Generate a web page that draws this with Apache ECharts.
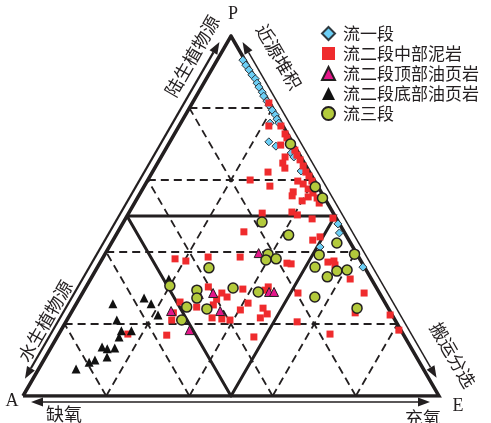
<!DOCTYPE html>
<html>
<head>
<meta charset="utf-8">
<script src="https://cdn.jsdelivr.net/npm/echarts/dist/echarts.min.js"></script>
<style>
  html, body { margin: 0; padding: 0; background: #ffffff; }
  #chart { width: 491px; height: 423px; }
</style>
</head>
<body>
<div id="chart"></div>
<script>
// Ternary plot of organic-matter source / depositional environment.
// Each sample is [P %, E %]; the A component is the remainder (100 - P - E).

const seriesNames = ['流一段', '流二段中部泥岩', '流二段顶部油页岩', '流二段底部油页岩', '流三段'];

const liu1 = [
  [93.3, 6.2], [91.9, 7.6], [90.6, 9.0], [89.2, 10.4], [88.1, 11.8], [86.9, 12.8],
  [85.8, 13.8], [84.4, 15.3], [83.3, 16.2], [81.9, 17.7], [80.8, 18.7], [79.4, 20.2],
  [78.1, 21.6], [76.9, 22.6], [75.8, 23.6], [75.8, 21.5], [70.6, 23.8], [69.4, 26.1],
  [67.5, 30.7], [66.4, 31.9], [62.5, 35.6], [47.8, 51.8], [45.3, 53.4], [41.4, 50.7],
  [35.8, 63.8]
];

const liu2Mid = [
  [81.4, 18.4], [75.0, 21.6], [75.0, 24.5], [72.8, 26.6], [71.7, 27.6], [69.7, 27.1],
  [68.3, 31.2], [66.9, 32.4], [66.4, 29.8], [65.6, 33.8], [64.7, 30.1], [63.9, 35.4],
  [63.3, 31.3], [62.2, 36.9], [62.2, 27.8], [61.1, 38.2], [60.0, 24.6], [59.7, 36.2],
  [59.7, 39.6], [58.3, 30.2], [58.9, 37.9], [57.5, 39.8], [56.4, 41.5], [56.7, 36.6],
  [55.6, 36.9], [55.3, 40.9], [55.0, 43.2], [54.2, 40.0], [53.6, 44.4], [50.8, 32.1],
  [51.1, 39.1], [50.3, 40.8], [49.2, 44.9], [49.4, 49.8], [45.6, 30.3], [44.2, 49.3],
  [43.3, 48.0], [38.1, 17.5], [37.5, 20.4], [38.6, 25.2], [38.6, 32.9], [36.9, 45.0],
  [36.7, 46.1], [37.2, 54.7], [37.5, 56.0], [36.4, 56.8], [32.5, 62.4], [30.3, 29.4],
  [28.6, 33.5], [27.5, 35.3], [29.7, 38.0], [29.4, 43.5], [30.3, 43.8], [28.6, 51.8],
  [28.6, 67.7], [25.8, 41.2], [26.9, 33.1], [25.3, 33.1], [24.7, 29.4], [26.1, 24.7],
  [24.4, 45.5], [22.8, 47.3], [21.7, 46.2], [23.9, 40.3], [23.1, 24.6], [21.1, 25.2],
  [21.7, 34.6], [21.4, 37.1], [21.1, 39.2], [20.6, 55.6], [23.1, 68.3], [22.5, 77.0],
  [18.3, 81.2], [17.2, 65.2], [16.4, 47.3], [16.9, 26.1], [17.2, 16.6]
];

const liu2Top = [
  [39.7, 36.8], [28.3, 28.1], [28.6, 31.4], [23.6, 35.6], [23.6, 23.8], [18.3, 30.9],
  [28.9, 44.7], [28.9, 45.9]
];

const liu2Bottom = [
  [32.5, 18.8], [27.2, 15.5], [25.6, 18.0], [22.5, 21.2], [25.6, 8.8], [21.1, 12.0],
  [18.1, 14.6], [18.1, 17.0], [16.4, 14.9], [13.6, 12.2], [13.1, 13.7], [13.3, 15.4],
  [10.8, 14.8], [10.0, 12.3], [9.4, 11.2], [7.5, 9.0]
];

const liu3 = [
  [70.0, 29.3], [58.1, 41.2], [55.0, 44.5], [48.3, 33.3], [44.7, 41.5], [39.4, 39.2],
  [37.8, 39.5], [38.1, 41.8], [35.6, 26.9], [30.6, 20.0], [29.4, 27.1], [27.2, 28.2],
  [30.0, 35.5], [28.9, 42.1], [24.7, 27.0], [24.2, 32.1], [21.1, 27.6], [42.5, 54.2],
  [39.4, 60.0], [35.8, 52.3], [34.7, 58.1], [35.0, 60.4], [33.1, 56.6], [27.5, 56.4],
  [24.4, 68.1], [39.2, 51.6]
];

// Dashed guide lines every 20 %
const gridLevels = [20, 40, 60, 80];

const vertexLabels = { P: 'P', A: 'A', E: 'E' };
const sideLabels = {
  leftUpper: '陆生植物源', leftLower: '水生植物源',
  rightUpper: '近源堆积', rightLower: '搬运分选',
  bottomLeft: '缺氧', bottomRight: '充氧'
};

const H = Math.sqrt(3) / 2;
// [P %, E %] -> cartesian position inside the unit equilateral triangle
function tern(p, e) { return [e / 100 + p / 200, (p / 100) * H]; }

const ink = '#231f20';

// guide segments in ternary space
const dashed = [];
gridLevels.forEach(k => {
  dashed.push({ coords: [tern(k, 0), tern(k, 100 - k)] });        // constant P
  dashed.push({ coords: [tern(0, k), tern(100 - k, k)] });        // constant E
  dashed.push({ coords: [tern(0, 100 - k), tern(100 - k, 0)] });  // constant A
});

const outer = [{ coords: [tern(0, 0), tern(0, 100), tern(100, 0), tern(0, 0)] }];
const inner = [{ coords: [tern(50, 0), tern(50, 50), tern(0, 50), tern(50, 0)] }];

function scatter(name, data, symbol, size, color, border, bw) {
  return {
    name: name, type: 'scatter', data: data.map(d => tern(d[0], d[1])),
    symbol: symbol, symbolSize: size, z: 5,
    itemStyle: { color: color, borderColor: border || color, borderWidth: bw || 0, opacity: 1 },
    emphasis: { disabled: true }
  };
}

const option = {
  animation: false,
  backgroundColor: '#ffffff',
  grid: { left: 23, top: 36, width: 416, height: 360, containLabel: false },
  xAxis: { type: 'value', min: 0, max: 1, show: false },
  yAxis: { type: 'value', min: 0, max: H, show: false },
  legend: {
    orient: 'vertical', left: 316, top: 20,
    itemWidth: 13, itemHeight: 13, itemGap: 3,
    selectedMode: false,
    data: seriesNames,
    textStyle: { fontSize: 17, color: ink, fontFamily: 'Noto Sans CJK SC', padding: [0, 0, 0, 3] }
  },
  series: [
    {
      type: 'lines', coordinateSystem: 'cartesian2d', silent: true, z: 1,
      data: dashed,
      lineStyle: { color: ink, width: 1.8, type: [8, 5], opacity: 1 }
    },
    {
      type: 'lines', coordinateSystem: 'cartesian2d', polyline: true, silent: true, z: 2,
      data: inner,
      lineStyle: { color: ink, width: 3, opacity: 1, join: 'miter' }
    },
    {
      type: 'lines', coordinateSystem: 'cartesian2d', polyline: true, silent: true, z: 2,
      data: outer,
      lineStyle: { color: ink, width: 3.5, opacity: 1, join: 'miter' }
    },
    scatter(seriesNames[0], liu1, 'diamond', 8, '#6ccff6', '#2f3a40', 1),
    scatter(seriesNames[1], liu2Mid, 'rect', 7, '#ef2b2d'),
    scatter(seriesNames[2], liu2Top, 'triangle', 9, '#e4168a', '#231f20', 1),
    scatter(seriesNames[3], liu2Bottom, 'triangle', 9, '#111111'),
    scatter(seriesNames[4], liu3, 'circle', 10, '#b3ca3c', '#231f20', 1.5)
  ]
};

const chart = echarts.init(document.getElementById('chart'), null, { renderer: 'canvas' });
chart.setOption(option);

// ---- side arrows and annotations, placed relative to the triangle's corners ----
const toPx = xy => chart.convertToPixel({ gridIndex: 0 }, xy);
const vP = toPx(tern(100, 0)), vA = toPx(tern(0, 0)), vE = toPx(tern(0, 100));

function add(a, b, s) { return [a[0] + b[0] * s, a[1] + b[1] * s]; }
function unit(a, b) { const dx = b[0] - a[0], dy = b[1] - a[1], l = Math.hypot(dx, dy); return [dx / l, dy / l]; }

function doubleArrow(t1, t2, width) {
  const u = unit(t1, t2), n = [-u[1], u[0]], L = 12, w = 4.5;
  const b1 = add(t1, u, L), b2 = add(t2, u, -L);
  return [
    { type: 'line', shape: { x1: b1[0], y1: b1[1], x2: b2[0], y2: b2[1] }, style: { stroke: ink, lineWidth: width } },
    { type: 'polygon', shape: { points: [t1, add(b1, n, w), add(b1, n, -w)] }, style: { fill: ink } },
    { type: 'polygon', shape: { points: [t2, add(b2, n, w), add(b2, n, -w)] }, style: { fill: ink } }
  ];
}

const uAP = unit(vA, vP), nL = [-0.866, -0.5];
const uPE = unit(vP, vE), nR = [0.866, -0.5];
const uAE = unit(vA, vE), nB = [0, 1];

const graphics = []
  .concat(doubleArrow(add(add(vA, uAP, 16), nL, 7), add(add(vP, uAP, -11), nL, 7), 2.2))
  .concat(doubleArrow(add(add(vP, uPE, 11), nR, 7), add(add(vE, uPE, -17), nR, 7), 1.5))
  .concat(doubleArrow(add(add(vA, uAE, 8), nB, 6), add(add(vE, uAE, -9), nB, 6), 1.5));

function label(text, x, y, rot, size, family) {
  return {
    type: 'text', x: x, y: y, rotation: rot, z: 10,
    style: { text: text, fill: ink, fontSize: size, fontFamily: family, align: 'center', verticalAlign: 'middle' }
  };
}
const cjk = 'Noto Sans CJK SC', serif = 'Liberation Serif';
graphics.push(
  label(vertexLabels.P, vP[0] + 2, vP[1] - 22, 0, 18, serif),
  label(vertexLabels.A, vA[0] - 11, vA[1] + 5, 0, 18, serif),
  label(vertexLabels.E, vE[0] + 19, vE[1] + 10, 0, 18, serif),
  label(sideLabels.leftUpper, 192, 56, Math.PI / 3, 18, cjk),
  label(sideLabels.leftLower, 45, 321, Math.PI / 3, 18, cjk),
  label(sideLabels.rightUpper, 279, 57, -Math.PI / 3, 18, cjk),
  label(sideLabels.rightLower, 453, 355, -Math.PI / 3, 18, cjk),
  label(sideLabels.bottomLeft, 64, 414, 0, 18, cjk),
  label(sideLabels.bottomRight, 423, 418, 0, 18, cjk)
);

chart.setOption({ graphic: graphics });
</script>
</body>
</html>
